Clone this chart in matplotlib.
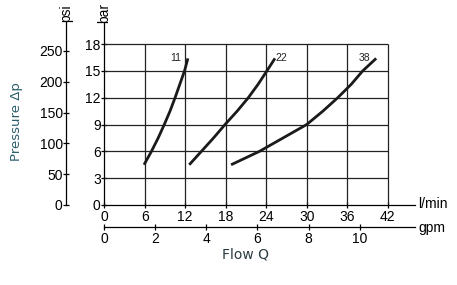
import matplotlib.pyplot as plt

# flow in l/min, pressure in bar
q11 = [5.9, 7.0, 8.0, 8.9, 9.75, 10.5, 11.2, 11.9, 12.4]
p11 = [4.5, 6.0, 7.5, 9.0, 10.5, 12.0, 13.5, 15.0, 16.4]
q22 = [12.6, 14.4, 16.2, 17.9, 19.7, 21.35, 22.8, 24.1, 25.3]
p22 = [4.5, 6.0, 7.5, 9.0, 10.5, 12.0, 13.5, 15.0, 16.4]
q38 = [18.8, 23.0, 26.5, 30.0, 32.4, 34.6, 36.6, 38.3, 40.3]
p38 = [4.5, 6.0, 7.5, 9.0, 10.5, 12.0, 13.5, 15.0, 16.4]
curve_names = ['11', '22', '38']
label_pos = [(10.6, 16.4), (26.3, 16.4), (38.5, 16.4)]

lpm_ticks = [0, 6, 12, 18, 24, 30, 36, 42]
bar_ticks = [0, 3, 6, 9, 12, 15, 18]
psi_ticks = [0, 50, 100, 150, 200, 250]
gpm_ticks = [0, 2, 4, 6, 8, 10]

PSI = 14.5038
GAL = 3.78541

plt.rcParams['font.family'] = ['Liberation Sans', 'DejaVu Sans']

fig = plt.figure(figsize=(4.57, 2.85), dpi=100)
W, H = 457, 285
x0, x1, y0, y1 = 104.2, 415, 205, 22
ax = fig.add_axes([x0 / W, 1 - y0 / H, (x1 - x0) / W, (y0 - y1) / H])
ax.set_xlim(0, 46.05)
ax.set_ylim(0, 20.47)

for s in ['top', 'right']:
    ax.spines[s].set_visible(False)
for s in ['left', 'bottom']:
    ax.spines[s].set_linewidth(0.9)

# grid inside 0..42 x 0..18
ax.vlines(lpm_ticks[1:], 0, 18, color='#222222', lw=0.9)
ax.hlines(bar_ticks[1:], 0, 42, color='#222222', lw=0.9)

for q, p in [(q11, p11), (q22, p22), (q38, p38)]:
    ax.plot(q, p, color='#1a1a1a', lw=2.0, solid_capstyle='butt', solid_joinstyle='round')
for name, (x, y) in zip(curve_names, label_pos):
    ax.text(x, y, name, fontsize=7.5, ha='center', va='center', color='#222222')

ax.set_xticks(lpm_ticks)
ax.set_yticks(bar_ticks)
ax.tick_params(direction='inout', length=5, width=0.9, labelsize=10, pad=0)
ax.tick_params(axis='x', pad=1)

# psi axis
sec_y = ax.secondary_yaxis(-38 / (x1 - x0), functions=(lambda b: b * PSI, lambda p: p / PSI))
sec_y.set_yticks(psi_ticks)
sec_y.tick_params(direction='inout', length=5, width=0.9, labelsize=10, pad=0)
sec_y.spines['left'].set_linewidth(0.9)

# gpm axis
sec_x = ax.secondary_xaxis(-22.3 / (y0 - y1), functions=(lambda l: l / GAL, lambda g: g * GAL))
sec_x.set_xticks(gpm_ticks)
sec_x.tick_params(direction='inout', length=5, width=0.9, labelsize=10, pad=1)
sec_x.spines['bottom'].set_linewidth(0.9)

fig.text(66 / W, 1 - 13 / H, 'psi', rotation=90, ha='center', va='center', fontsize=10)
fig.text(104 / W, 1 - 13 / H, 'bar', rotation=90, ha='center', va='center', fontsize=10)
fig.text(418 / W, 1 - 204 / H, 'l/min', ha='left', va='center', fontsize=10)
fig.text(418 / W, 1 - 228 / H, 'gpm', ha='left', va='center', fontsize=10)
fig.text(246 / W, 1 - 255 / H, 'Flow Q', ha='center', va='center', fontsize=10,
         color='#2b3a40', family='DejaVu Sans')
fig.text(17 / W, 1 - 122 / H, 'Pressure Δp', rotation=90, ha='center', va='center',
         fontsize=9.5, color='#2d5f6e', family='DejaVu Sans')

fig.savefig('out.png', dpi=100)
